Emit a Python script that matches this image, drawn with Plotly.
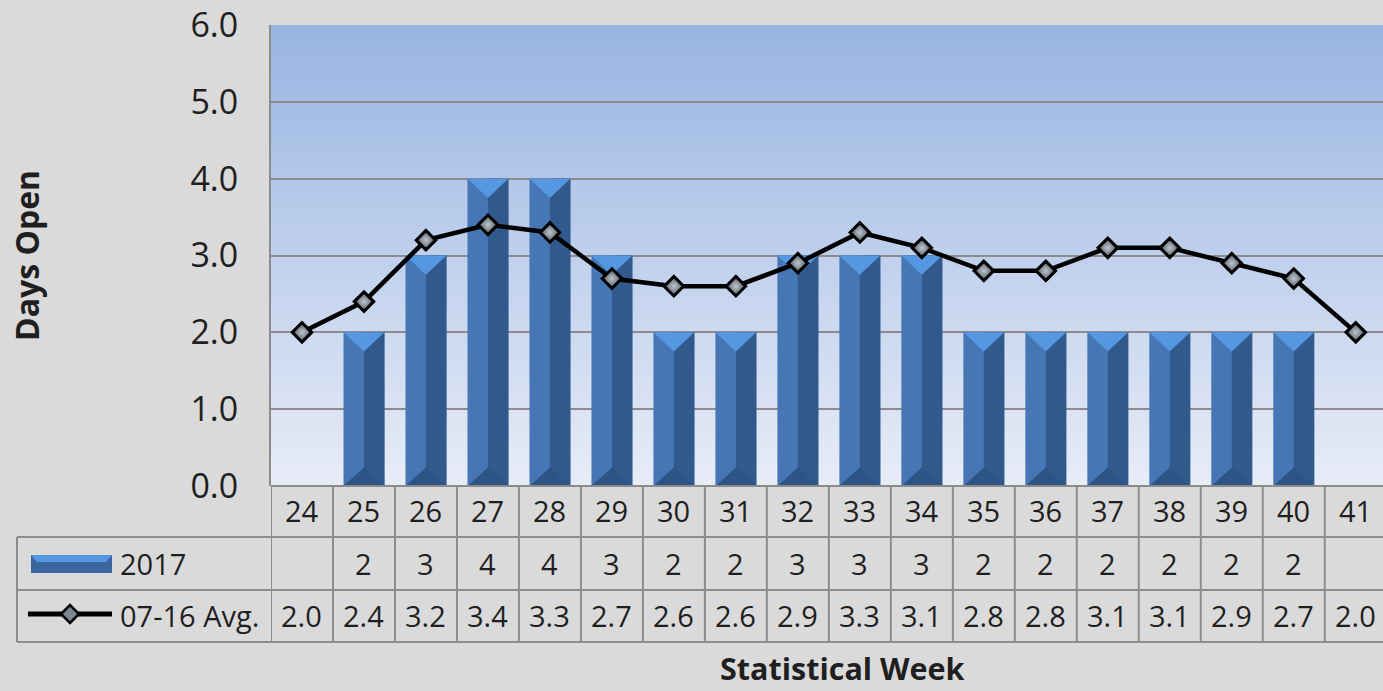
import plotly.graph_objects as go

# ---------------- data ----------------
weeks = [24, 25, 26, 27, 28, 29, 30, 31, 32, 33, 34, 35, 36, 37, 38, 39, 40, 41]
days_2017 = [None, 2, 3, 4, 4, 3, 2, 2, 3, 3, 3, 2, 2, 2, 2, 2, 2, None]
avg_07_16 = [2.0, 2.4, 3.2, 3.4, 3.3, 2.7, 2.6, 2.6, 2.9, 3.3, 3.1, 2.8, 2.8, 3.1, 3.1, 2.9, 2.7, 2.0]
series_names = ["2017", "07-16 Avg."]
y_ticks = [0, 1, 2, 3, 4, 5, 6]
y_title = "Days Open"
x_title = "Statistical Week"

# ---------------- geometry helpers ----------------
W, H = 1383, 691
L, R, T, B = 271, 0, 25, 486
PW = W - L - R
PH = B - T


def px(p):
    return (p - L) / PW


def py(p):
    return (B - p) / PH


FONT = "Open Sans"
TXT = "#1F1F1F"
GRID = "#8C8C8C"

idx = list(range(len(weeks)))
HALF = 0.33
TOP_D = 0.25
BOT_D = 0.24

fig = go.Figure()

valid = [(i, v) for i, v in zip(idx, days_2017) if v is not None]
bx = [i for i, _ in valid]
by = [v for _, v in valid]

# left (lit) face
fig.add_trace(go.Bar(x=bx, y=by, width=2 * HALF, offset=-HALF,
                     marker=dict(color="#4677B4", line=dict(width=0)),
                     name=series_names[0], showlegend=False, hoverinfo="skip"))
# right (shaded) face
fig.add_trace(go.Bar(x=bx, y=by, width=HALF, offset=0,
                     marker=dict(color="#32598C", line=dict(width=0)),
                     showlegend=False, hoverinfo="skip"))

# top bevel
tx, ty = [], []
for i, v in valid:
    tx += [i - HALF, i + HALF, i, i - HALF, None]
    ty += [v, v, v - TOP_D, v, None]
fig.add_trace(go.Scatter(x=tx, y=ty, mode="lines", fill="toself",
                         fillcolor="#5597E0", line=dict(width=0, color="#5597E0"),
                         showlegend=False, hoverinfo="skip"))
# bottom bevel
ux, uy = [], []
for i, v in valid:
    ux += [i - HALF, i + HALF, i, i - HALF, None]
    uy += [0, 0, BOT_D, 0, None]
fig.add_trace(go.Scatter(x=ux, y=uy, mode="lines", fill="toself",
                         fillcolor="#2E5385", line=dict(width=0, color="#2E5385"),
                         showlegend=False, hoverinfo="skip"))

# average line
fig.add_trace(go.Scatter(x=idx, y=avg_07_16, mode="lines+markers",
                         line=dict(color="black", width=4.5),
                         marker=dict(symbol="diamond", size=15, color="#4C565F",
                                     gradient=dict(type="radial", color="#BEC7CF"),
                                     line=dict(color="black", width=3)),
                         name=series_names[1], showlegend=False, hoverinfo="skip"))

shapes = []
# plot-area gradient
top_c = (152, 180, 226)
bot_c = (231, 236, 247)
N = 80
for k in range(N):
    t = (k + 0.5) / N
    c = tuple(round(top_c[j] + (bot_c[j] - top_c[j]) * t) for j in range(3))
    shapes.append(dict(type="rect", xref="x domain", yref="y domain",
                       x0=0, x1=1, y0=1 - (k + 1) / N - 0.002, y1=1 - k / N,
                       fillcolor="rgb(%d,%d,%d)" % c, line=dict(width=0), layer="below"))

# data table lines
line_style = dict(color=GRID, width=2)
shapes.append(dict(type="line", xref="paper", yref="paper", x0=0, x1=1,
                   y0=py(486), y1=py(486), line=line_style))
for yy in (537, 590, 642):
    shapes.append(dict(type="line", xref="paper", yref="paper", x0=px(17), x1=1,
                       y0=py(yy), y1=py(yy), line=line_style))
shapes.append(dict(type="line", xref="paper", yref="paper", x0=px(17), x1=px(17),
                   y0=py(537), y1=py(642), line=line_style))
for i in range(len(weeks) + 1):
    shapes.append(dict(type="line", xref="x", yref="paper", x0=i - 0.5, x1=i - 0.5,
                       y0=py(486), y1=py(642), line=line_style))

# legend keys in the table
shapes.append(dict(type="rect", xref="paper", yref="paper",
                   x0=px(31), x1=px(112), y0=py(573), y1=py(555),
                   fillcolor="#3A659E", line=dict(width=0)))
shapes.append(dict(type="path", xref="paper", yref="paper",
                   path="M %f %f L %f %f L %f %f L %f %f Z" % (
                       px(31), py(555), px(112), py(555), px(106), py(562), px(37), py(562)),
                   fillcolor="#5597E0", line=dict(width=0)))
shapes.append(dict(type="line", xref="paper", yref="paper",
                   x0=px(28), x1=px(112), y0=py(614), y1=py(614),
                   line=dict(color="black", width=5)))
shapes.append(dict(type="path", xref="paper", yref="paper",
                   path="M %f %f L %f %f L %f %f L %f %f Z" % (
                       px(61), py(614), px(70), py(605), px(79), py(614), px(70), py(623)),
                   fillcolor="#7D8892", line=dict(color="black", width=2.5)))

annotations = []
for i, w in enumerate(weeks):
    annotations.append(dict(x=i, y=py(511), xref="x", yref="paper", text=str(w),
                            showarrow=False, font=dict(family=FONT, size=29, color=TXT),
                            xanchor="center", yanchor="middle"))
for i, v in enumerate(days_2017):
    if v is None:
        continue
    annotations.append(dict(x=i, y=py(563), xref="x", yref="paper", text=str(v),
                            showarrow=False, font=dict(family=FONT, size=29, color=TXT),
                            xanchor="center", yanchor="middle"))
for i, v in enumerate(avg_07_16):
    annotations.append(dict(x=i, y=py(616), xref="x", yref="paper", text="%.1f" % v,
                            showarrow=False, font=dict(family=FONT, size=29, color=TXT),
                            xanchor="center", yanchor="middle"))
annotations.append(dict(x=px(118), y=py(563), xref="paper", yref="paper", text=series_names[0],
                        showarrow=False, font=dict(family=FONT, size=29, color=TXT),
                        xanchor="left", yanchor="middle"))
annotations.append(dict(x=px(118), y=py(616), xref="paper", yref="paper", text=series_names[1],
                        showarrow=False, font=dict(family=FONT, size=29, color=TXT),
                        xanchor="left", yanchor="middle"))
annotations.append(dict(x=px(26), y=py(256), xref="paper", yref="paper",
                        text="<b>%s</b>" % y_title, textangle=-90, showarrow=False,
                        font=dict(family=FONT, size=32, color=TXT),
                        xanchor="center", yanchor="middle"))
annotations.append(dict(x=px(842), y=py(668), xref="paper", yref="paper",
                        text="<b>%s</b>" % x_title, showarrow=False, borderpad=0,
                        font=dict(family=FONT, size=30.5, color=TXT),
                        xanchor="center", yanchor="middle"))

fig.update_layout(
    width=W, height=H,
    margin=dict(l=L, r=R, t=T, b=H - B, pad=0),
    paper_bgcolor="#DADADA",
    plot_bgcolor="#E7ECF7",
    barmode="overlay",
    showlegend=False,
    shapes=shapes,
    annotations=annotations,
    xaxis=dict(range=[-0.5, 17.44], showticklabels=False, showgrid=False,
               zeroline=False, showline=False, fixedrange=True),
    yaxis=dict(range=[0, 6], tickvals=y_ticks, ticktext=["%.1f" % v for v in y_ticks],
               tickfont=dict(family=FONT, size=34, color=TXT),
               showgrid=True, gridcolor=GRID, gridwidth=1.5,
               showline=True, linecolor=GRID, linewidth=2,
               zeroline=False, ticks="", ticklabelstandoff=24, fixedrange=True),
)

fig.write_html("out.html", config={"displayModeBar": False},
               post_script="document.body.style.margin='0';")
